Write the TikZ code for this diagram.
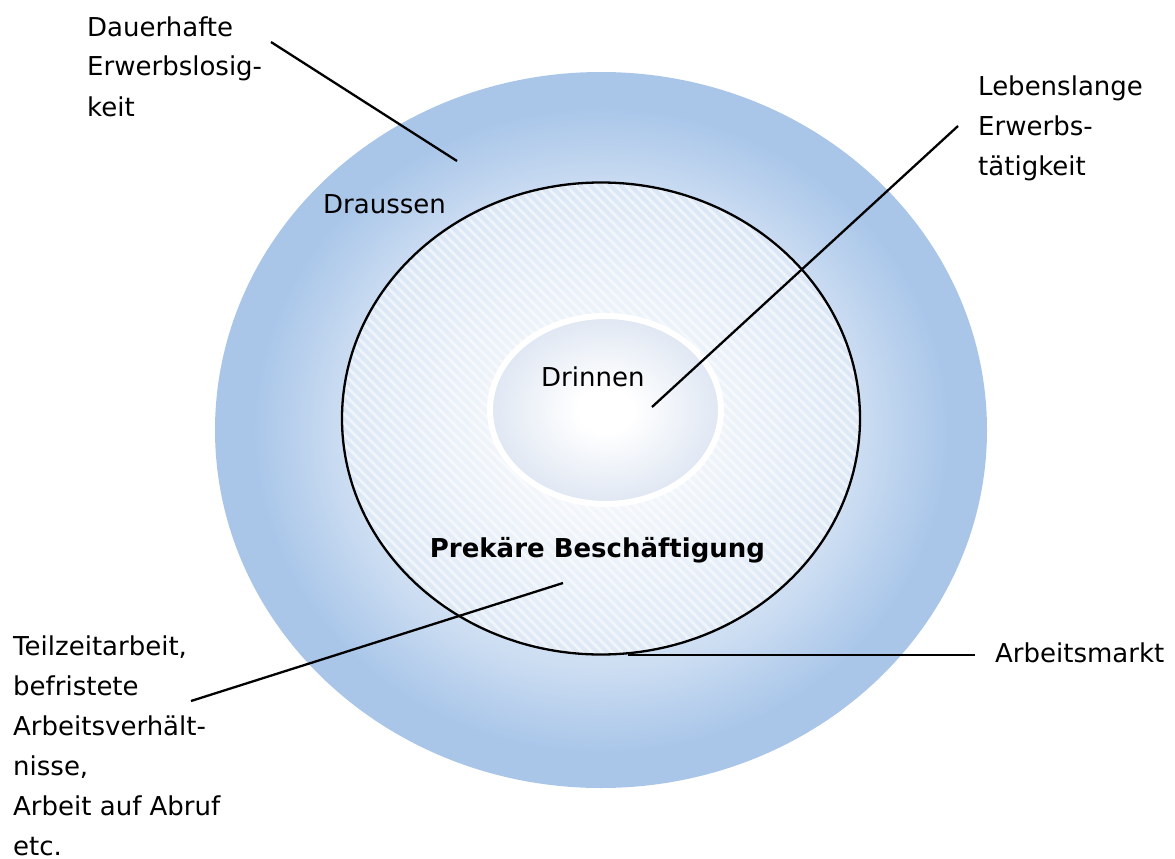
\documentclass[tikz,border=0pt]{standalone}
\usepackage{fontspec}
\setmainfont{DejaVu Sans}
\definecolor{ringblue}{HTML}{A9C6E9}
\definecolor{coreblue}{HTML}{DFE7F3}
% labour market rings: white centre fading to blue at the rim
% (the path's bounding box maps onto the central 50bp square)
\pgfdeclareradialshading{ringshade}{\pgfpoint{0bp}{0bp}}{%
  color(0bp)=(white); color(4bp)=(white!85!ringblue);
  color(16.5bp)=(white!42!ringblue); color(22.5bp)=(ringblue); color(50bp)=(ringblue)}
\pgfdeclareradialshading{coreshade}{\pgfpoint{0bp}{0bp}}{%
  color(0bp)=(white); color(6bp)=(white); color(25bp)=(coreblue); color(50bp)=(coreblue)}
\begin{document}
\begin{tikzpicture}[x=1pt,y=-1pt,
  lbl/.style={inner sep=0pt, align=left, font=\fontsize{26}{40}\selectfont},
  leader/.style={line width=2.3pt, black},
  stripe/.style={white, opacity=0.55, line width=2.5pt}]
\useasboundingbox (0,0) rectangle (1175,859);

% outer ring: outside the labour market
\shade[shading=ringshade] (601,430) ellipse [x radius=386, y radius=358];

% labour market with hatched precarious zone
\fill[white, opacity=0.32] (601,418.5) ellipse [x radius=259, y radius=236];
\begin{scope}
  \clip (601,418.5) ellipse [x radius=259, y radius=236];
  \foreach \a in {-400,-390,...,900}
    \draw[stripe] (\a,150) -- ++(560,560);
\end{scope}
\draw[line width=2.3pt] (601,418.5) ellipse [x radius=259, y radius=236];

% core: lifelong employment
\shade[shading=coreshade] (605.5,410) ellipse [x radius=115.5, y radius=94];
\draw[white, line width=6pt] (605.5,410) ellipse [x radius=115.5, y radius=94];

% labels (base anchor of a multi-line node sits on its last line)
\node[lbl, anchor=base west] (dauer) at (87,116) {Dauerhafte\\Erwerbslosig-\\keit};
\node[lbl, anchor=base west] (lebens) at (978,175) {Lebenslange\\Erwerbs-\\tätigkeit};
\node[lbl, anchor=base west] (draussen) at (323,213) {Draussen};
\node[lbl, anchor=base west] (drinnen) at (541,386) {Drinnen};
\node[lbl, anchor=base, font=\fontsize{26}{40}\selectfont\bfseries] (prekaer) at (597.5,557) {Prekäre Beschäftigung};
\node[lbl, anchor=base west] (markt) at (995,662) {Arbeitsmarkt};
\node[lbl, anchor=base west] (teilzeit) at (13,855) {Teilzeitarbeit,\\befristete\\Arbeitsverhält-\\nisse,\\Arbeit auf Abruf\\etc.};

% leader lines
\coordinate (dauerA) at (271,42);   \coordinate (dauerB) at (457,161);
\coordinate (lebensA) at (958,126); \coordinate (lebensB) at (652,407);
\coordinate (teilA) at (191,701);   \coordinate (teilB) at (563,583);
\coordinate (marktA) at (975,655);  \coordinate (marktB) at (628,655);
\draw[leader] (dauerA) -- (dauerB);
\draw[leader] (lebensA) -- (lebensB);
\draw[leader] (teilA) -- (teilB);
\draw[leader] (marktA) -- (marktB);
\end{tikzpicture}
\end{document}
